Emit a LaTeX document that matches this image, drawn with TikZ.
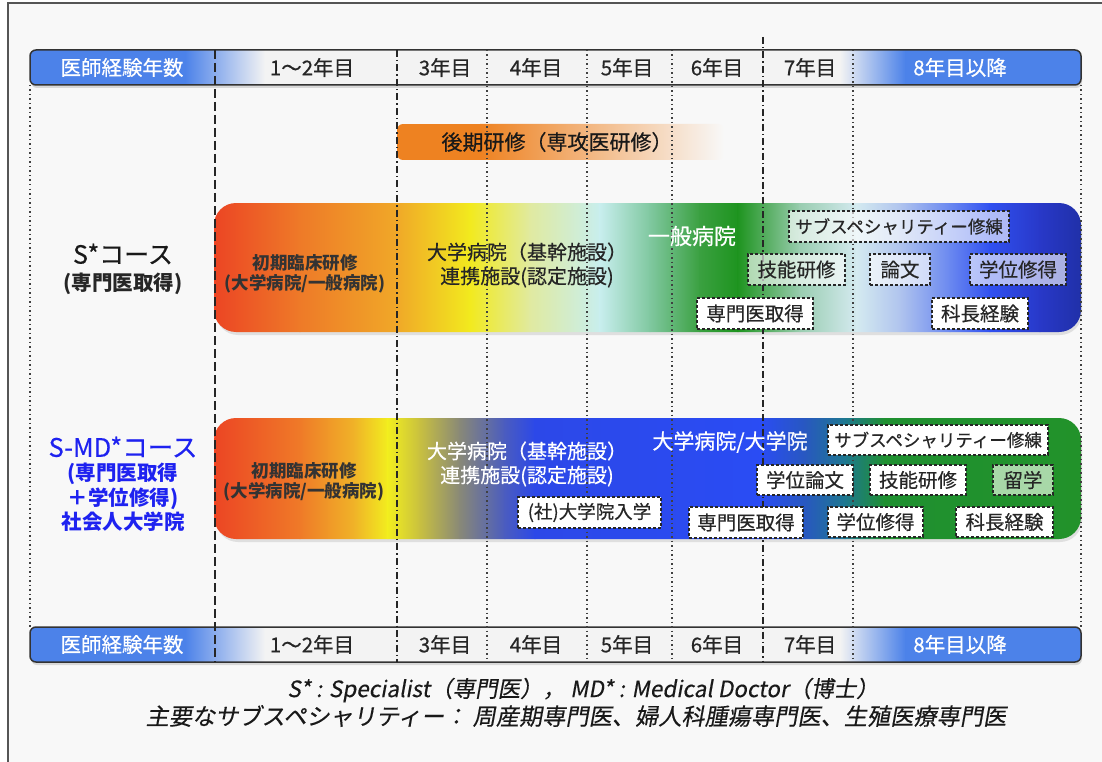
\documentclass[tikz,border=0pt]{standalone}
\usepackage{fontspec}
\setmainfont{Noto Sans CJK JP}
\newfontfamily\medfont{Noto Sans CJK JP}[FakeBold=0.45]
\newfontfamily\slantfont{Noto Sans CJK JP}[FakeSlant=0.18, FakeBold=0.3]
\definecolor{bgc}{HTML}{F8F8F8}
\definecolor{framec}{HTML}{555555}
\definecolor{edge}{HTML}{333333}
\definecolor{hdrblue}{HTML}{4C82E9}
\definecolor{hdrmid}{HTML}{F3F3F3}
\definecolor{orng}{HTML}{EE8221}
\definecolor{mdblue}{HTML}{1E22F0}
\definecolor{ryugaku}{HTML}{A8D8A8}
% S* course stops
\definecolor{sa}{HTML}{EC4524}
\definecolor{sb}{HTML}{EE7A28}
\definecolor{sc}{HTML}{F0A828}
\definecolor{sd}{HTML}{F2EA1E}
\definecolor{se}{HTML}{E0EAA0}
\definecolor{sf}{HTML}{C8EEEE}
\definecolor{sg}{HTML}{80C8A0}
\definecolor{sh}{HTML}{3AA040}
\definecolor{si}{HTML}{1E941F}
\definecolor{sj}{HTML}{9ACDB0}
\definecolor{sk}{HTML}{D4EAF0}
\definecolor{sl}{HTML}{B0C4EE}
\definecolor{sm}{HTML}{6A88F0}
\definecolor{sn}{HTML}{3050F0}
\definecolor{so}{HTML}{2838C8}
\definecolor{sp}{HTML}{2030A8}
% S-MD course stops
\definecolor{ma}{HTML}{EC4524}
\definecolor{mb}{HTML}{EF7A28}
\definecolor{mc}{HTML}{F0B428}
\definecolor{md}{HTML}{F2EE1E}
\definecolor{me}{HTML}{C8C040}
\definecolor{mf}{HTML}{888878}
\definecolor{mg}{HTML}{4A5CC0}
\definecolor{mh}{HTML}{2C48E8}
\definecolor{mi}{HTML}{2A4CF4}
\definecolor{mj}{HTML}{2858C0}
\definecolor{mk}{HTML}{1E7890}
\definecolor{ml}{HTML}{1F9030}
\definecolor{mm}{HTML}{22922A}
\tikzset{
  hdrtxt/.style={font=\medfont\fontsize{20.5}{22}\selectfont, text=black!85, inner sep=0},
  hdrwtxt/.style={font=\medfont\fontsize{20.5}{22}\selectfont, text=white, inner sep=0},
  vdash/.style={draw=black!85, line width=1.6, dash pattern=on 9pt off 4pt},
  vdashdot/.style={draw=black!85, line width=1.5, dash pattern=on 7pt off 3pt on 1.5pt off 3pt},
  vdot/.style={draw=black!75, line width=1.3, dash pattern=on 1.5pt off 3pt},
  tbox/.style={draw=black!85, line width=1.2, dash pattern=on 3pt off 2pt, fill=white,
    inner sep=0, minimum height=31, font=\medfont\fontsize{19.5}{21}\selectfont, text=black!85},
  semi/.style={fill opacity=0.62, text opacity=1, draw opacity=1},
  bartxt/.style={font=\bfseries\fontsize{17.5}{19.5}\selectfont, align=center, inner sep=0, text=black!80},
  bigtxt/.style={font=\medfont\fontsize{20}{24}\selectfont, align=center, inner sep=0},
  lbltxt/.style={font=\bfseries\fontsize{20.5}{24.5}\selectfont, align=center, inner sep=0},
  notetxt/.style={font=\slantfont\fontsize{22.5}{24}\selectfont, inner sep=0, text=black!90},
}
\begin{document}
\begin{tikzpicture}[x=1pt,y=-1pt]
\useasboundingbox (0,0) rectangle (1102,762);
\fill[white] (0,0) rectangle (1102,762);
\fill[bgc] (8,3) rectangle (1102,762);
\draw[framec, line width=1.5] (8,762) -- (8,3) -- (1102,3);

% ---------- header bars ----------
\foreach \yt/\yb in {50/85, 627/662}{
  \fill[black!30, opacity=0.45, rounded corners=6] (31,\yt+2) rectangle (1082,\yb+3);
  \begin{scope}
    \clip[rounded corners=6] (30,\yt) rectangle (1081,\yb);
    \fill[hdrmid] (30,\yt) rectangle (1081,\yb);
    \fill[hdrblue] (30,\yt) rectangle (185.5,\yb);
    \shade[left color=hdrblue, right color=hdrmid] (185,\yt) rectangle (265,\yb);
    \shade[left color=hdrmid, right color=hdrblue] (840,\yt) rectangle (905.5,\yb);
    \fill[hdrblue] (905,\yt) rectangle (1081,\yb);
  \end{scope}
  \draw[edge, line width=1.5, rounded corners=6] (30,\yt) rectangle (1081,\yb);
}

% ---------- orange bar ----------
\begin{scope}
  \clip[rounded corners=6] (397,124) rectangle (724,160);
  \fill[orng] (397,124) rectangle (480.5,160);
  \shade[left color=orng, right color=bgc] (480,124) rectangle (724,160);
\end{scope}

% ---------- S* course bar ----------
\fill[black!30, opacity=0.35, rounded corners=22] (216,206) rectangle (1082,335);
\begin{scope}
  \clip[rounded corners=22] (214,203) rectangle (1081,332);
  \foreach \xa/\ca/\xb/\cb in {214/sa/300/sb, 300/sb/397/sc, 397/sc/470/sd, 470/sd/530/se,
      530/se/600/sf, 600/sf/650/sg, 650/sg/700/sh, 700/sh/738/si, 738/si/800/sj,
      800/sj/857/sk, 857/sk/900/sl, 900/sl/950/sm, 950/sm/990/sn, 990/sn/1040/so, 1040/so/1081/sp}{
    \shade[left color=\ca, right color=\cb] (\xa-0.4,203) rectangle (\xb+0.4,332);
  }
\end{scope}

% ---------- S-MD course bar ----------
\fill[black!30, opacity=0.35, rounded corners=22] (216,421) rectangle (1082,542);
\begin{scope}
  \clip[rounded corners=22] (214,418) rectangle (1081,539);
  \foreach \xa/\ca/\xb/\cb in {214/ma/300/mb, 300/mb/355/mc, 355/mc/388/md, 388/md/420/me,
      420/me/460/mf, 460/mf/505/mg, 505/mg/535/mh, 535/mh/760/mi, 760/mi/805/mj,
      805/mj/845/mk, 845/mk/885/ml, 885/ml/1081/mm}{
    \shade[left color=\ca, right color=\cb] (\xa-0.4,418) rectangle (\xb+0.4,539);
  }
\end{scope}

% ---------- vertical guide lines ----------
\draw[vdot] (30,85) -- (30,627);
\draw[vdot] (1081,85) -- (1081,627);
\draw[vdash] (215,50) -- (215,662);
\draw[vdashdot] (397,50) -- (397,662);
\draw[vdot] (487,50) -- (487,662);
\draw[vdot] (587,50) -- (587,662);
\draw[vdot] (672,50) -- (672,662);
\draw[vdashdot] (763,37) -- (763,662);
\draw[vdot] (853,50) -- (853,662);

% ---------- header texts ----------
\node[hdrwtxt] (t0) at (122,67.5) {医師経験年数};
\node[hdrtxt] (t1) at (312,67.5) {1〜2年目};
\node[hdrtxt] (t3) at (445,67.5) {3年目};
\node[hdrtxt] (t4) at (536,67.5) {4年目};
\node[hdrtxt] (t5) at (627,67.5) {5年目};
\node[hdrtxt] (t6) at (717,67.5) {6年目};
\node[hdrtxt] (t7) at (810,67.5) {7年目};
\node[hdrwtxt] (t8) at (960,67.5) {8年目以降};

\node[hdrwtxt] (b0) at (122,644.5) {医師経験年数};
\node[hdrtxt] (b1) at (312,644.5) {1〜2年目};
\node[hdrtxt] (b3) at (445,644.5) {3年目};
\node[hdrtxt] (b4) at (536,644.5) {4年目};
\node[hdrtxt] (b5) at (627,644.5) {5年目};
\node[hdrtxt] (b6) at (717,644.5) {6年目};
\node[hdrtxt] (b7) at (810,644.5) {7年目};
\node[hdrwtxt] (b8) at (960,644.5) {8年目以降};

% ---------- orange bar text ----------
\node[font=\medfont\fontsize{21}{23}\selectfont, text=black!90, inner sep=0] (kouki) at (557,142) {後期研修（専攻医研修）};

% ---------- left labels ----------
\node[font=\medfont\fontsize{25}{27}\selectfont, inner sep=0, text=black!90] (scourse) at (123,254) {S*コース};
\node[lbltxt, text=black!85] (sget) at (123,284) {(専門医取得)};
\node[font=\medfont\fontsize{25.5}{27}\selectfont, inner sep=0, text=mdblue] (mdcourse) at (123,447) {S-MD*コース};
\node[lbltxt, text=mdblue] (mdsub) at (123,497.5) {(専門医取得\\＋学位修得)\\社会人大学院};

% ---------- S* bar texts ----------
\node[bartxt] (s1) at (305,274) {初期臨床研修\\(大学病院/一般病院)};
\node[bigtxt, text=black!85] (s2) at (527,265) {大学病院（基幹施設）\\連携施設(認定施設)};
\node[bigtxt, text=white, font=\medfont\fontsize{22}{24}\selectfont] (s3) at (692,236) {一般病院};

\node[tbox, semi, minimum width=220, font=\medfont\fontsize{17.5}{19}\selectfont] (s4) at (899,226.5) {サブスペシャリティー修練};
\node[tbox, semi, minimum width=97] (s5) at (796.5,269.5) {技能研修};
\node[tbox, semi, minimum width=60] (s6) at (900,269.5) {論文};
\node[tbox, semi, minimum width=96] (s7) at (1018,269.5) {学位修得};
\node[tbox, minimum width=116] (s8) at (755,313.5) {専門医取得};
\node[tbox, minimum width=96] (s9) at (980,313.5) {科長経験};

% ---------- S-MD bar texts ----------
\node[bartxt] (m1) at (304,482) {初期臨床研修\\(大学病院/一般病院)};
\node[bigtxt, text=white] (m2) at (527,464) {大学病院（基幹施設）\\連携施設(認定施設)};
\node[bigtxt, text=white, font=\medfont\fontsize{21}{24}\selectfont] (m3) at (730,442) {大学病院/大学院};

\node[tbox, minimum width=143, font=\medfont\fontsize{18.5}{20}\selectfont] (m4) at (589.5,512.5) {(社)大学院入学};
\node[tbox, minimum width=220, minimum height=30, font=\medfont\fontsize{17.5}{19}\selectfont] (m5) at (938,440) {サブスペシャリティー修練};
\node[tbox, minimum width=96, minimum height=30] (m6) at (805,480) {学位論文};
\node[tbox, minimum width=96, minimum height=30] (m7) at (918,480) {技能研修};
\node[tbox, minimum width=60, minimum height=30, fill=ryugaku] (m8) at (1023,480) {留学};
\node[tbox, minimum width=114] (m9) at (746,522.5) {専門医取得};
\node[tbox, minimum width=95, minimum height=30] (m10) at (875.5,522) {学位修得};
\node[tbox, minimum width=97, minimum height=30] (m11) at (1004.5,522) {科長経験};

% ---------- footnote ----------
\node[notetxt] (n1) at (583,690) {S* : Specialist（専門医），\ MD* : Medical Doctor（博士）};
\node[notetxt, font=\slantfont\fontsize{23.2}{24}\selectfont] (n2) at (576,716) {主要なサブスペシャリティー：\ 周産期専門医、婦人科腫瘍専門医、生殖医療専門医};
\end{tikzpicture}
\end{document}
